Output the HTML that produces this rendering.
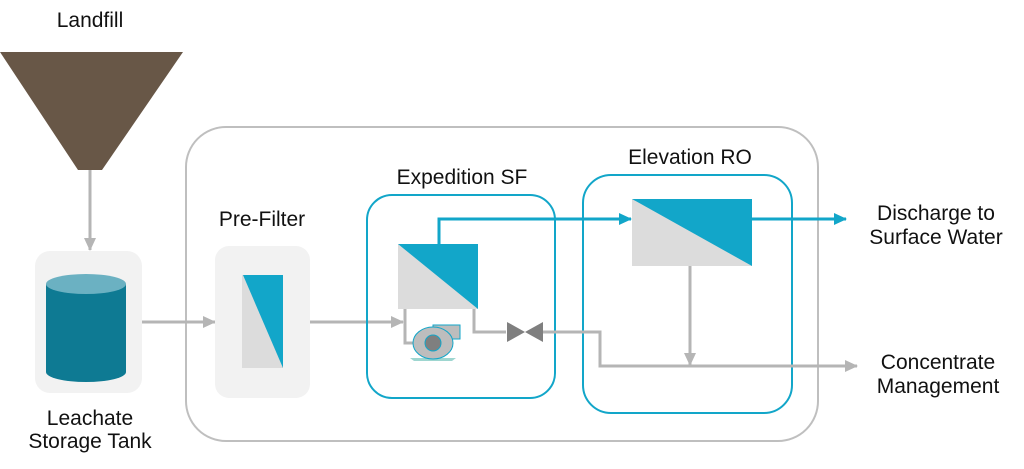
<!DOCTYPE html>
<html><head><style>html,body{margin:0;padding:0;background:#fff;}svg{display:block}</style></head>
<body>
<svg width="1024" height="469" viewBox="0 0 1024 469" xmlns="http://www.w3.org/2000/svg" font-family="Liberation Sans, sans-serif" font-size="21" fill="#111">
<defs>
<marker id="ag" markerWidth="13" markerHeight="12" refX="12" refY="6" orient="auto" markerUnits="userSpaceOnUse"><path d="M0,0 L13,6 L0,12z" fill="#b5b5b5"/></marker>
<marker id="ab" markerWidth="13" markerHeight="12" refX="12" refY="6" orient="auto" markerUnits="userSpaceOnUse"><path d="M0,0 L13,6 L0,12z" fill="#12a6c9"/></marker>
</defs>
<text x="90" y="27" text-anchor="middle">Landfill</text>
<polygon points="0,52 183,52 102,170 78,170" fill="#685747"/>
<line x1="90" y1="170" x2="90" y2="250" stroke="#b5b5b5" stroke-width="3" marker-end="url(#ag)"/>
<rect x="35" y="251" width="107" height="142" rx="15" fill="#f2f2f2"/>
<path d="M46,284 L46,372 A40,10 0 0 0 126,372 L126,284 Z" fill="#0e7a93"/>
<ellipse cx="86" cy="284" rx="40" ry="10" fill="#6bb1c2"/>
<text x="90" y="425" text-anchor="middle">Leachate</text>
<text x="90" y="448" text-anchor="middle">Storage Tank</text>
<rect x="186" y="127" width="632" height="314" rx="40" fill="none" stroke="#bfbfbf" stroke-width="2"/>
<line x1="142" y1="322" x2="215" y2="322" stroke="#b5b5b5" stroke-width="3" marker-end="url(#ag)"/>
<rect x="215" y="246" width="95" height="152" rx="14" fill="#f2f2f2"/>
<rect x="242" y="275" width="41" height="93" fill="#dcdcdc"/>
<polygon points="243,275 283,275 283,368" fill="#12a6c9"/>
<text x="262" y="226" text-anchor="middle">Pre-Filter</text>
<line x1="310" y1="322" x2="403" y2="322" stroke="#b5b5b5" stroke-width="3" marker-end="url(#ag)"/>
<rect x="367" y="195" width="188" height="203" rx="25" fill="none" stroke="#12a6c9" stroke-width="2"/>
<text x="462" y="184" text-anchor="middle">Expedition SF</text>
<rect x="583" y="175" width="209" height="238" rx="28" fill="none" stroke="#12a6c9" stroke-width="2"/>
<text x="690" y="164" text-anchor="middle">Elevation RO</text>
<polyline points="405,309 405,343 425,343" fill="none" stroke="#b5b5b5" stroke-width="3"/>
<polyline points="474,309 474,332 506,332" fill="none" stroke="#b5b5b5" stroke-width="3"/>
<polyline points="543,332 600,332 600,366 857,366" fill="none" stroke="#b5b5b5" stroke-width="3" marker-end="url(#ag)"/>
<line x1="690" y1="266" x2="690" y2="365" stroke="#b5b5b5" stroke-width="3" marker-end="url(#ag)"/>
<polygon points="507,322 525,332 507,342" fill="#7f7f7f"/>
<polygon points="543,322 525,332 543,342" fill="#7f7f7f"/>
<polygon points="414,361 452,361 456,358 410,358" fill="#9ed6d0"/>
<rect x="433" y="325" width="27" height="14" fill="#bdbdbd" stroke="#12a6c9" stroke-width="1"/>
<ellipse cx="433" cy="343" rx="20" ry="16" fill="#bdbdbd" stroke="#12a6c9" stroke-width="1"/>
<circle cx="433" cy="343" r="8" fill="#7f7f7f" stroke="#12a6c9" stroke-width="1"/>
<rect x="398" y="244" width="80" height="65" fill="#dcdcdc"/>
<polygon points="398,244 478,244 478,309" fill="#12a6c9"/>
<polyline points="439,244 439,219 631,219" fill="none" stroke="#12a6c9" stroke-width="3" marker-end="url(#ab)"/>
<rect x="632" y="199" width="120" height="67" fill="#dcdcdc"/>
<polygon points="632,199 752,199 752,266" fill="#12a6c9"/>
<line x1="752" y1="219" x2="846" y2="219" stroke="#12a6c9" stroke-width="3" marker-end="url(#ab)"/>
<text x="936" y="220" text-anchor="middle">Discharge to</text>
<text x="936" y="244" text-anchor="middle">Surface Water</text>
<text x="938" y="369" text-anchor="middle">Concentrate</text>
<text x="938" y="393" text-anchor="middle">Management</text>
</svg>
</body></html>
